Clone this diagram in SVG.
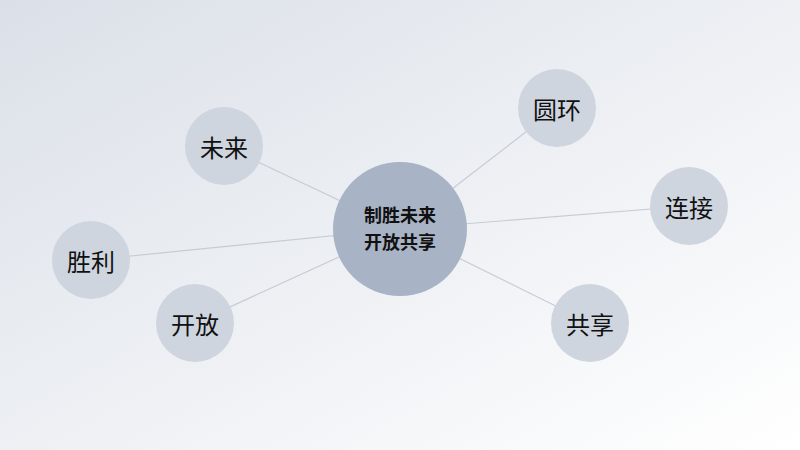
<svg xmlns="http://www.w3.org/2000/svg" width="800" height="450" viewBox="0 0 800 450">
<defs>
<linearGradient id="bg" x1="0" y1="0" x2="1" y2="1">
<stop offset="0" stop-color="#dbe0e8"/>
<stop offset="1" stop-color="#ffffff"/>
</linearGradient>
<style>
.sat{fill:#cfd5df}
.hub{fill:#a8b3c5}
.lbl{font-family:"Noto Sans CJK SC","Noto Sans",sans-serif;font-size:24px;fill:#111;text-anchor:middle;dominant-baseline:central}
.hl{font-family:"Noto Sans CJK SC","Noto Sans",sans-serif;font-size:18px;font-weight:bold;fill:#111;text-anchor:middle;dominant-baseline:central}
.ln{stroke:#c6ccd7;stroke-width:1.2;fill:none}
</style>
</defs>
<rect width="800" height="450" fill="url(#bg)"/>
<g id="connectors">
<line class="ln" x1="400" y1="229" x2="224" y2="146"/>
<line class="ln" x1="400" y1="229" x2="91" y2="260"/>
<line class="ln" x1="400" y1="229" x2="195" y2="323"/>
<line class="ln" x1="400" y1="229" x2="557" y2="108"/>
<line class="ln" x1="400" y1="229" x2="689" y2="206"/>
<line class="ln" x1="400" y1="229" x2="590" y2="323"/>
</g>
<g id="hub"><circle class="hub" cx="400" cy="229" r="67"/><text class="hl" x="400" y="214">制胜未来</text><text class="hl" x="400" y="241">开放共享</text></g>
<g id="n-weilai"><circle class="sat" cx="224" cy="146" r="39"/><text class="lbl" x="224" y="146">未来</text></g>
<g id="n-shengli"><circle class="sat" cx="91" cy="260" r="39"/><text class="lbl" x="91" y="260">胜利</text></g>
<g id="n-kaifang"><circle class="sat" cx="195" cy="323" r="39"/><text class="lbl" x="195" y="323">开放</text></g>
<g id="n-yuanhuan"><circle class="sat" cx="557" cy="108" r="39"/><text class="lbl" x="557" y="108">圆环</text></g>
<g id="n-lianjie"><circle class="sat" cx="689" cy="206" r="39"/><text class="lbl" x="689" y="206">连接</text></g>
<g id="n-gongxiang"><circle class="sat" cx="590" cy="323" r="39"/><text class="lbl" x="590" y="323">共享</text></g>
</svg>
